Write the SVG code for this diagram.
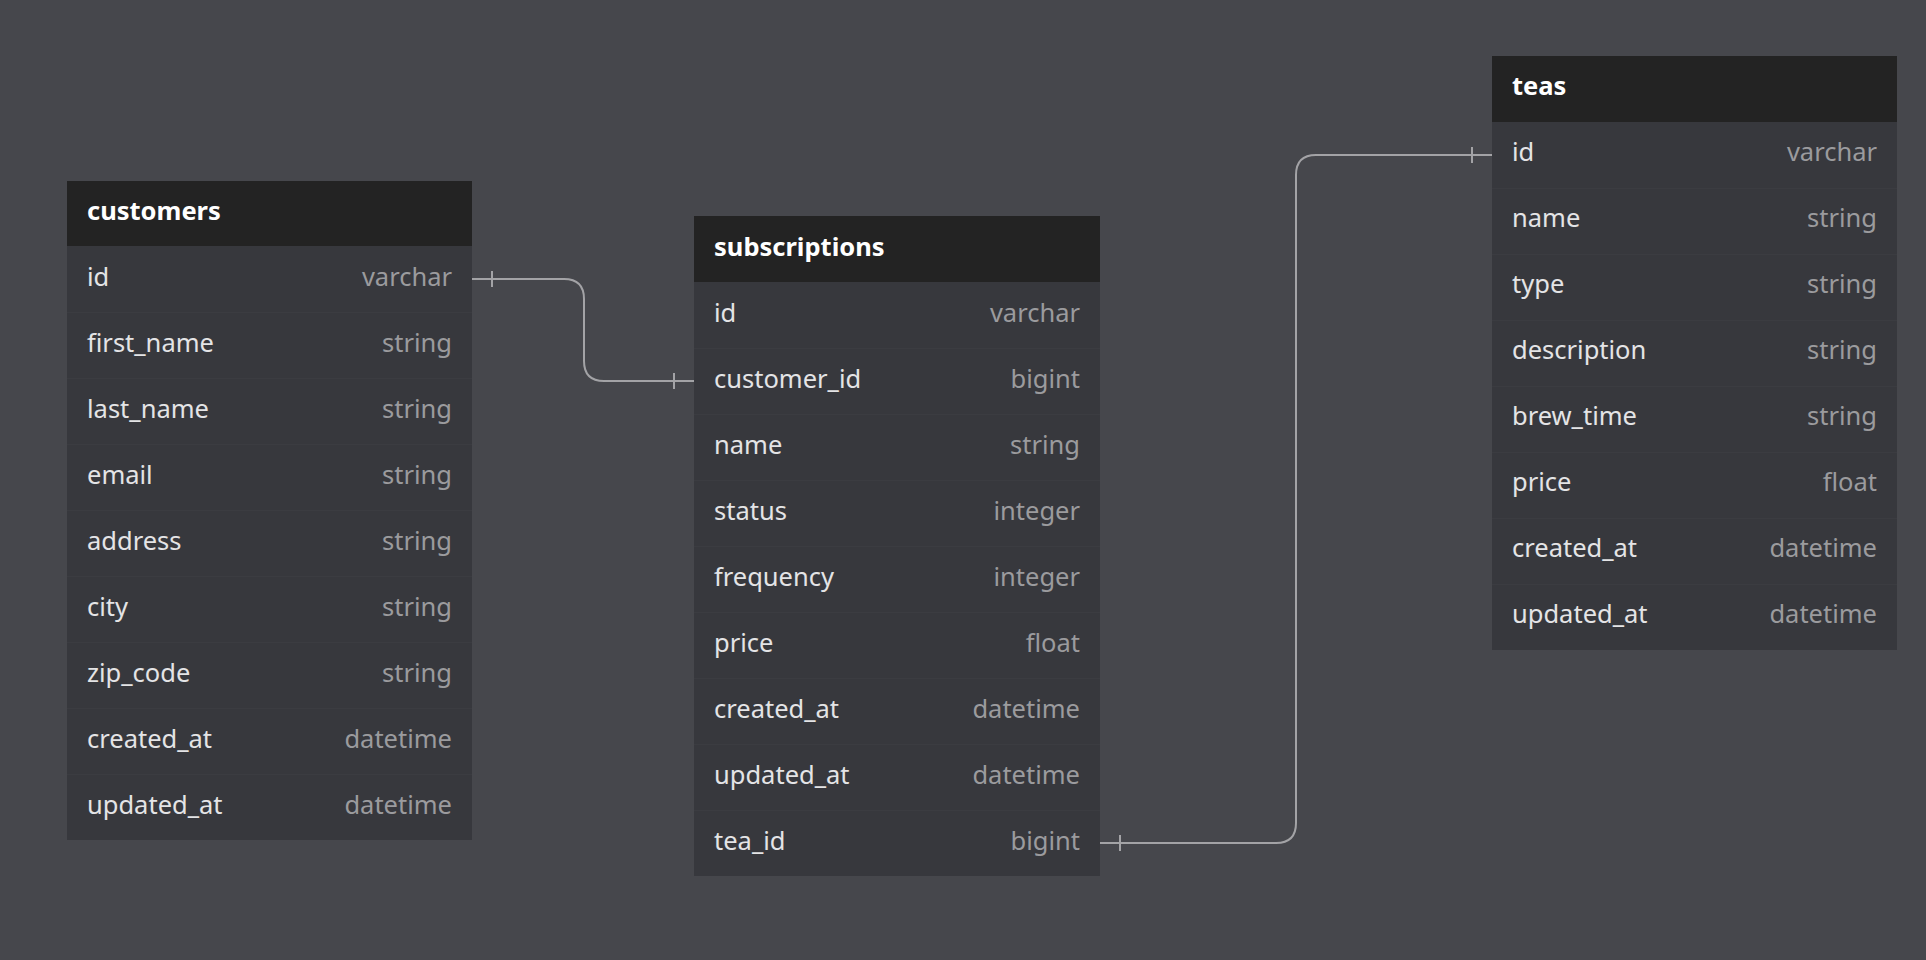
<svg xmlns="http://www.w3.org/2000/svg" width="1926" height="960" viewBox="0 0 1926 960">
  <style>
    .bg { fill: #46474c; }
    .hdr { fill: #232323; }
    .body { fill: #37383d; }
    .sep { stroke: #3b3c41; stroke-width: 1; }
    .title { font-family: "Noto Sans", "Open Sans", "Liberation Sans", sans-serif; font-size: 25.5px; font-weight: 700; fill: #ffffff; }
    .col { font-family: "Noto Sans", "Open Sans", "Liberation Sans", sans-serif; font-size: 25.5px; fill: #e4e4e6; }
    .typ { font-family: "Noto Sans", "Open Sans", "Liberation Sans", sans-serif; font-size: 25.5px; fill: #9b9b9e; text-anchor: end; }
    .link { fill: none; stroke: #a3a3a6; stroke-width: 2; }
  </style>

  <rect class="bg" x="0" y="0" width="1926" height="960"/>

  <!-- relationships -->
  <g id="connectors">
    <!-- customers.id -> subscriptions.customer_id -->
    <path class="link" d="M472 279 H564 Q584 279 584 299 V361 Q584 381 604 381 H694"/>
    <line class="link" x1="492" y1="271" x2="492" y2="287"/>
    <line class="link" x1="674" y1="373" x2="674" y2="389"/>
    <!-- subscriptions.tea_id -> teas.id -->
    <path class="link" d="M1100 843 H1276 Q1296 843 1296 823 V175 Q1296 155 1316 155 H1492"/>
    <line class="link" x1="1120" y1="835" x2="1120" y2="851"/>
    <line class="link" x1="1472" y1="147" x2="1472" y2="163"/>
  </g>

  <!-- customers -->
  <g id="customers" transform="translate(67,181)">
    <rect class="body" x="0" y="65" width="405" height="594"/>
    <rect class="hdr" x="0" y="0" width="405" height="65"/>
    <text class="title" x="20" y="39">customers</text>
    <g class="sep">
      <line x1="0" y1="131.5" x2="405" y2="131.5"/>
      <line x1="0" y1="197.5" x2="405" y2="197.5"/>
      <line x1="0" y1="263.5" x2="405" y2="263.5"/>
      <line x1="0" y1="329.5" x2="405" y2="329.5"/>
      <line x1="0" y1="395.5" x2="405" y2="395.5"/>
      <line x1="0" y1="461.5" x2="405" y2="461.5"/>
      <line x1="0" y1="527.5" x2="405" y2="527.5"/>
      <line x1="0" y1="593.5" x2="405" y2="593.5"/>
    </g>
    <text class="col" x="20" y="105">id</text><text class="typ" x="385" y="105">varchar</text>
    <text class="col" x="20" y="171">first_name</text><text class="typ" x="385" y="171">string</text>
    <text class="col" x="20" y="237">last_name</text><text class="typ" x="385" y="237">string</text>
    <text class="col" x="20" y="303">email</text><text class="typ" x="385" y="303">string</text>
    <text class="col" x="20" y="369">address</text><text class="typ" x="385" y="369">string</text>
    <text class="col" x="20" y="435">city</text><text class="typ" x="385" y="435">string</text>
    <text class="col" x="20" y="501">zip_code</text><text class="typ" x="385" y="501">string</text>
    <text class="col" x="20" y="567">created_at</text><text class="typ" x="385" y="567">datetime</text>
    <text class="col" x="20" y="633">updated_at</text><text class="typ" x="385" y="633">datetime</text>
  </g>

  <!-- subscriptions -->
  <g id="subscriptions" transform="translate(694,216)">
    <rect class="body" x="0" y="66" width="406" height="594"/>
    <rect class="hdr" x="0" y="0" width="406" height="66"/>
    <text class="title" x="20" y="40">subscriptions</text>
    <g class="sep">
      <line x1="0" y1="132.5" x2="406" y2="132.5"/>
      <line x1="0" y1="198.5" x2="406" y2="198.5"/>
      <line x1="0" y1="264.5" x2="406" y2="264.5"/>
      <line x1="0" y1="330.5" x2="406" y2="330.5"/>
      <line x1="0" y1="396.5" x2="406" y2="396.5"/>
      <line x1="0" y1="462.5" x2="406" y2="462.5"/>
      <line x1="0" y1="528.5" x2="406" y2="528.5"/>
      <line x1="0" y1="594.5" x2="406" y2="594.5"/>
    </g>
    <text class="col" x="20" y="106">id</text><text class="typ" x="386" y="106">varchar</text>
    <text class="col" x="20" y="172">customer_id</text><text class="typ" x="386" y="172">bigint</text>
    <text class="col" x="20" y="238">name</text><text class="typ" x="386" y="238">string</text>
    <text class="col" x="20" y="304">status</text><text class="typ" x="386" y="304">integer</text>
    <text class="col" x="20" y="370">frequency</text><text class="typ" x="386" y="370">integer</text>
    <text class="col" x="20" y="436">price</text><text class="typ" x="386" y="436">float</text>
    <text class="col" x="20" y="502">created_at</text><text class="typ" x="386" y="502">datetime</text>
    <text class="col" x="20" y="568">updated_at</text><text class="typ" x="386" y="568">datetime</text>
    <text class="col" x="20" y="634">tea_id</text><text class="typ" x="386" y="634">bigint</text>
  </g>

  <!-- teas -->
  <g id="teas" transform="translate(1492,56)">
    <rect class="body" x="0" y="66" width="405" height="528"/>
    <rect class="hdr" x="0" y="0" width="405" height="66"/>
    <text class="title" x="20" y="39">teas</text>
    <g class="sep">
      <line x1="0" y1="132.5" x2="405" y2="132.5"/>
      <line x1="0" y1="198.5" x2="405" y2="198.5"/>
      <line x1="0" y1="264.5" x2="405" y2="264.5"/>
      <line x1="0" y1="330.5" x2="405" y2="330.5"/>
      <line x1="0" y1="396.5" x2="405" y2="396.5"/>
      <line x1="0" y1="462.5" x2="405" y2="462.5"/>
      <line x1="0" y1="528.5" x2="405" y2="528.5"/>
    </g>
    <text class="col" x="20" y="105">id</text><text class="typ" x="385" y="105">varchar</text>
    <text class="col" x="20" y="171">name</text><text class="typ" x="385" y="171">string</text>
    <text class="col" x="20" y="237">type</text><text class="typ" x="385" y="237">string</text>
    <text class="col" x="20" y="303">description</text><text class="typ" x="385" y="303">string</text>
    <text class="col" x="20" y="369">brew_time</text><text class="typ" x="385" y="369">string</text>
    <text class="col" x="20" y="435">price</text><text class="typ" x="385" y="435">float</text>
    <text class="col" x="20" y="501">created_at</text><text class="typ" x="385" y="501">datetime</text>
    <text class="col" x="20" y="567">updated_at</text><text class="typ" x="385" y="567">datetime</text>
  </g>
</svg>
